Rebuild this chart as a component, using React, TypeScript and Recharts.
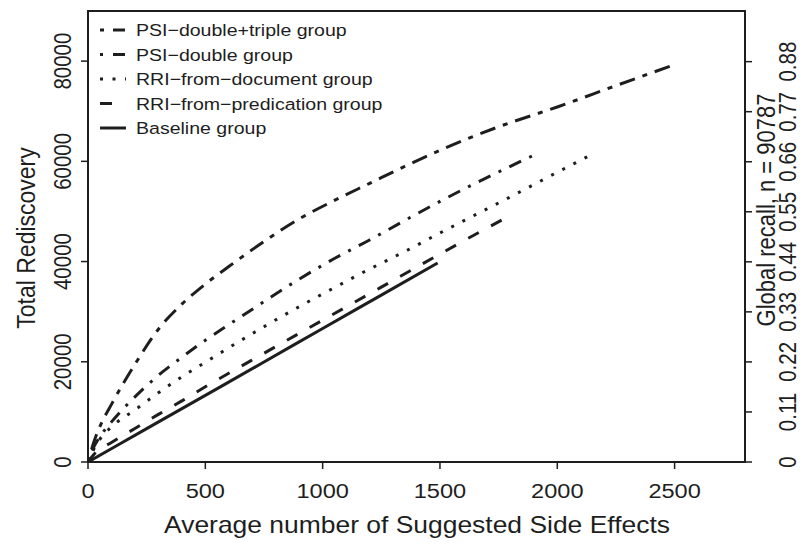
import { LineChart, Line, XAxis, YAxis, ReferenceArea, Label } from 'recharts'

// values
const xTicks = [0, 500, 1000, 1500, 2000, 2500]
const yTicks = [0, 20000, 40000, 60000, 80000]
const recallTicks = [0, 0.11, 0.22, 0.33, 0.44, 0.55, 0.66, 0.77, 0.88]
const nRecall = 90787
const xMax = 2800
const yMax = 90000

const psiTripleX = [0, 25, 50, 100, 200, 300, 400, 500, 600, 750, 900, 1050, 1200, 1350, 1500, 1750, 2000, 2250, 2500]
const psiTripleY = [0, 4000, 7000, 11500, 19500, 26500, 31500, 35500, 39000, 44000, 48500, 52200, 55600, 59000, 62200, 66900, 70850, 75100, 79300]

const psiDoubleX = [0, 25, 50, 100, 200, 300, 400, 500, 600, 750, 900, 1050, 1200, 1350, 1500, 1650, 1800, 1925]
const psiDoubleY = [0, 3000, 5000, 8000, 13000, 17300, 20900, 24300, 27400, 32000, 36500, 40600, 44300, 48200, 52000, 55600, 59000, 61800]

const rriDocX = [0, 25, 50, 100, 200, 300, 400, 500, 600, 750, 900, 1050, 1200, 1350, 1500, 1650, 1800, 1950, 2140]
const rriDocY = [0, 2600, 4500, 7000, 10400, 13800, 17000, 19900, 22800, 27000, 31000, 34800, 38500, 42000, 45700, 49300, 52900, 56600, 61200]

const rriPredX = [0, 25, 50, 100, 200, 300, 400, 500, 750, 1000, 1250, 1500, 1650, 1815]
const rriPredY = [0, 1500, 2500, 3900, 6700, 9500, 12200, 15000, 21700, 28300, 34900, 41500, 45400, 49600]

const baselineX = [0, 250, 500, 750, 1000, 1250, 1490]
const baselineY = [0, 6650, 13300, 19950, 26650, 33300, 39700]

const toPoints = (xs: number[], ys: number[]) => xs.map((x, i) => ({ x, y: ys[i] }))

const series = [
  { name: 'PSI\u2212double+triple group', data: toPoints(psiTripleX, psiTripleY), dash: '5 8 16 8', legendDash: '4 9 12' },
  { name: 'PSI\u2212double group', data: toPoints(psiDoubleX, psiDoubleY), dash: '3 9 13 9', legendDash: '3 10 12' },
  { name: 'RRI\u2212from\u2212document group', data: toPoints(rriDocX, rriDocY), dash: '3 9.5', legendDash: '3 9.5' },
  { name: 'RRI\u2212from\u2212predication group', data: toPoints(rriPredX, rriPredY), dash: '12 14', legendDash: '12 14' },
  { name: 'Baseline group', data: toPoints(baselineX, baselineY), dash: undefined, legendDash: undefined },
]

const INK = '#1e1e1e'
const FONT = '"Liberation Sans", Arial, Helvetica, sans-serif'
const SX = 1.15 // the figure is a little wider than tall

function XTick(props: any) {
  const { x, y, payload } = props
  return (
    <text transform={`translate(${x},${y + 27}) scale(${SX},1)`} textAnchor="middle" fontSize={20.5} fill={INK} fontFamily={FONT}>
      {payload.value}
    </text>
  )
}

function LeftTick(props: any) {
  const { x, y, payload } = props
  return (
    <text transform={`translate(${x - 8},${y}) scale(${SX},1) rotate(-90)`} textAnchor="middle" fontSize={20.5} fill={INK} fontFamily={FONT}>
      {payload.value}
    </text>
  )
}

function RightTick(props: any) {
  const { x, y, payload } = props
  const label = payload.value === 0 ? '0' : Number(payload.value).toFixed(2)
  return (
    <text transform={`translate(${x + 42},${y}) scale(${SX},1) rotate(-90)`} textAnchor="middle" fontSize={20.5} fill={INK} fontFamily={FONT}>
      {label}
    </text>
  )
}

function LegendBox() {
  return (
    <svg width={400} height={150} style={{ position: 'absolute', left: 0, top: 0 }}>
      {series.map((s, i) => {
        const cy = 30 + i * 24.5
        return (
          <g key={s.name}>
            <line x1={100} x2={126} y1={cy} y2={cy} stroke={INK} strokeWidth={3} strokeDasharray={s.legendDash} />
            <text transform={`translate(136,${cy + 6}) scale(${SX},1)`} fontSize={17} fill={INK} fontFamily={FONT}>
              {s.name}
            </text>
          </g>
        )
      })}
    </svg>
  )
}

export default function App() {
  return (
    <div style={{ position: 'absolute', left: 0, top: 0, width: 800, height: 551, background: '#fff' }}>
      <LineChart width={800} height={551} margin={{ top: 11, right: 0, bottom: 0, left: 0 }}>
        <XAxis
          type="number"
          dataKey="x"
          domain={[0, xMax]}
          ticks={xTicks}
          allowDataOverflow
          height={89}
          axisLine={false}
          tickLine={{ stroke: INK, strokeWidth: 1.5 }}
          tickSize={7}
          tick={XTick}
          interval={0}
        >
          <Label
            content={() => (
              <text transform={`translate(417,533) scale(${SX},1)`} textAnchor="middle" fontSize={23} fill={INK} fontFamily={FONT}>
                Average number of Suggested Side Effects
              </text>
            )}
          />
        </XAxis>
        <YAxis
          yAxisId="left"
          type="number"
          domain={[0, yMax]}
          ticks={yTicks}
          allowDataOverflow
          width={88}
          axisLine={false}
          tickLine={{ stroke: INK, strokeWidth: 1.5 }}
          tickSize={7}
          tick={LeftTick}
          interval={0}
        >
          <Label
            content={() => (
              <text transform={`translate(35,238) scale(${SX},1) rotate(-90)`} textAnchor="middle" fontSize={23} fill={INK} fontFamily={FONT}>
                Total Rediscovery
              </text>
            )}
          />
        </YAxis>
        <YAxis
          yAxisId="right"
          orientation="right"
          type="number"
          domain={[0, yMax / nRecall]}
          ticks={recallTicks}
          allowDataOverflow
          width={55}
          axisLine={false}
          tickLine={{ stroke: INK, strokeWidth: 1.5 }}
          tickSize={7}
          tick={RightTick}
          interval={0}
        >
          <Label
            content={() => (
              <text transform={`translate(775,210) scale(${SX},1) rotate(-90)`} textAnchor="middle" fontSize={22} fill={INK} fontFamily={FONT}>
                Global recall, n = 90787
              </text>
            )}
          />
        </YAxis>
        <ReferenceArea yAxisId="left" x1={0} x2={xMax} y1={0} y2={yMax} fill="none" stroke={INK} strokeWidth={2} ifOverflow="visible" />
        {series.map((s) => (
          <Line
            key={s.name}
            yAxisId="left"
            data={s.data}
            dataKey="y"
            type="monotone"
            stroke={INK}
            strokeWidth={3}
            strokeDasharray={s.dash}
            dot={false}
            activeDot={false}
            isAnimationActive={false}
          />
        ))}
      </LineChart>
      <LegendBox />
    </div>
  )
}
